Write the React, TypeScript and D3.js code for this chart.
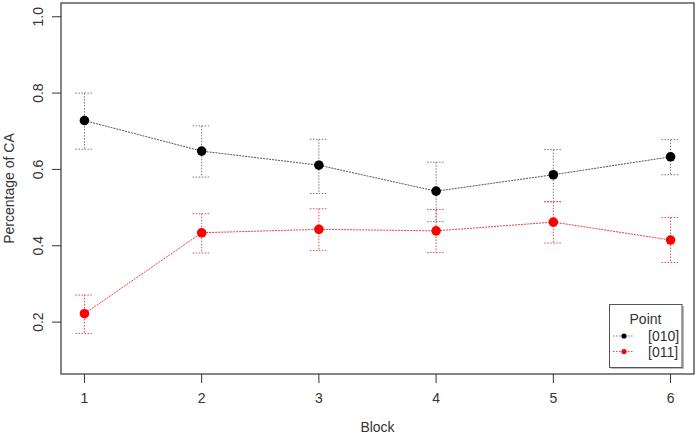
import React from "react";
import * as d3 from "d3";

const blocks = [1, 2, 3, 4, 5, 6];
const yTicks = [0.2, 0.4, 0.6, 0.8, 1.0];

const mean010 = [0.728, 0.648, 0.611, 0.543, 0.586, 0.633];
const upper010 = [0.8, 0.714, 0.679, 0.619, 0.652, 0.678];
const lower010 = [0.653, 0.58, 0.537, 0.463, 0.516, 0.586];

const mean011 = [0.222, 0.434, 0.443, 0.439, 0.462, 0.415];
const upper011 = [0.271, 0.484, 0.497, 0.495, 0.515, 0.474];
const lower011 = [0.17, 0.381, 0.388, 0.382, 0.407, 0.356];

const seriesNames = ["[010]", "[011]"];

const W = 696;
const H = 435;
const left = 61;
const right = 694;
const top = 3;
const bottom = 374;

const FONT = "'Liberation Sans', Arial, sans-serif";

export default function App() {
  // R-style 4% padding around the data limits
  const x = d3.scaleLinear().domain([1 - 0.2, 6 + 0.2]).range([left, right]);
  const y = d3.scaleLinear().domain([0.064, 1.036]).range([bottom, top]);

  const series = [
    { name: seriesNames[0], mean: mean010, up: upper010, lo: lower010, color: "#000000", line: "#555555", bar: "#777777" },
    { name: seriesNames[1], mean: mean011, up: upper011, lo: lower011, color: "#ff0000", line: "#e84040", bar: "#e84848" },
  ];

  const line = d3
    .line<number>()
    .x((_, i) => x(blocks[i]))
    .y((d) => y(d));

  const capHalf = 9;

  return (
    <div style={{ position: "absolute", left: 0, top: 0 }}>
      <svg width={W} height={H} style={{ display: "block", background: "#fff" }} fontFamily={FONT}>
        {/* error bars */}
        {series.map((s) => (
          <g key={"eb" + s.name} stroke={s.bar} strokeWidth={1} strokeDasharray="1.5 1.5" fill="none">
            {blocks.map((b, i) => (
              <g key={b}>
                <line x1={x(b)} x2={x(b)} y1={y(s.up[i])} y2={y(s.lo[i])} />
                <line x1={x(b) - capHalf} x2={x(b) + capHalf} y1={y(s.up[i])} y2={y(s.up[i])} />
                <line x1={x(b) - capHalf} x2={x(b) + capHalf} y1={y(s.lo[i])} y2={y(s.lo[i])} />
              </g>
            ))}
          </g>
        ))}
        {/* connecting lines */}
        {series.map((s) => (
          <path
            key={"ln" + s.name}
            d={line(s.mean) || ""}
            fill="none"
            stroke={s.line}
            strokeWidth={1}
            strokeDasharray="2 1"
          />
        ))}
        {/* points */}
        {series.map((s) => (
          <g key={"pt" + s.name} fill={s.color}>
            {blocks.map((b, i) => (
              <circle key={b} cx={x(b)} cy={y(s.mean[i])} r={4.8} />
            ))}
          </g>
        ))}

        {/* plot frame */}
        <rect x={left} y={top} width={right - left} height={bottom - top} fill="none" stroke="#333" strokeWidth={1.2} />

        {/* x axis */}
        <g stroke="#333" strokeWidth={1}>
          {blocks.map((b) => (
            <line key={b} x1={x(b)} x2={x(b)} y1={bottom} y2={bottom + 9} />
          ))}
        </g>
        <g fontSize={14} fill="#333" textAnchor="middle">
          {blocks.map((b) => (
            <text key={b} x={x(b)} y={403}>
              {b}
            </text>
          ))}
        </g>
        <text x={(left + right) / 2} y={432} fontSize={14} textAnchor="middle" fill="#333">
          Block
        </text>

        {/* y axis */}
        <g stroke="#333" strokeWidth={1}>
          {yTicks.map((t) => (
            <line key={t} x1={left - 9} x2={left} y1={y(t)} y2={y(t)} />
          ))}
        </g>
        <g fontSize={14} fill="#333" textAnchor="middle">
          {yTicks.map((t) => (
            <text key={t} transform={`translate(${43},${y(t)}) rotate(-90)`}>
              {t.toFixed(1)}
            </text>
          ))}
        </g>
        <text
          transform={`translate(${14},${(top + bottom) / 2}) rotate(-90)`}
          fontSize={14}
          textAnchor="middle"
          fill="#333"
        >
          Percentage of CA
        </text>

        {/* legend */}
        <g>
          <rect x={611} y={306} width={73} height={63} fill="#bbb" />
          <rect x={609.5} y={304.5} width={72.5} height={63} fill="#fff" stroke="#555" strokeWidth={1} />
          <text x={645.5} y={324} fontSize={14} textAnchor="middle" fill="#333">
            Point
          </text>
          {series.map((s, i) => {
            const ly = 336 + i * 15.5;
            return (
              <g key={"lg" + s.name}>
                <line x1={613} x2={633} y1={ly} y2={ly} stroke={s.bar} strokeWidth={1} strokeDasharray="1.5 1.5" />
                <circle cx={624} cy={ly} r={2.6} fill={s.color} />
                <text x={648} y={ly + 5} fontSize={14} fill="#333">
                  {s.name}
                </text>
              </g>
            );
          })}
        </g>
      </svg>
    </div>
  );
}
